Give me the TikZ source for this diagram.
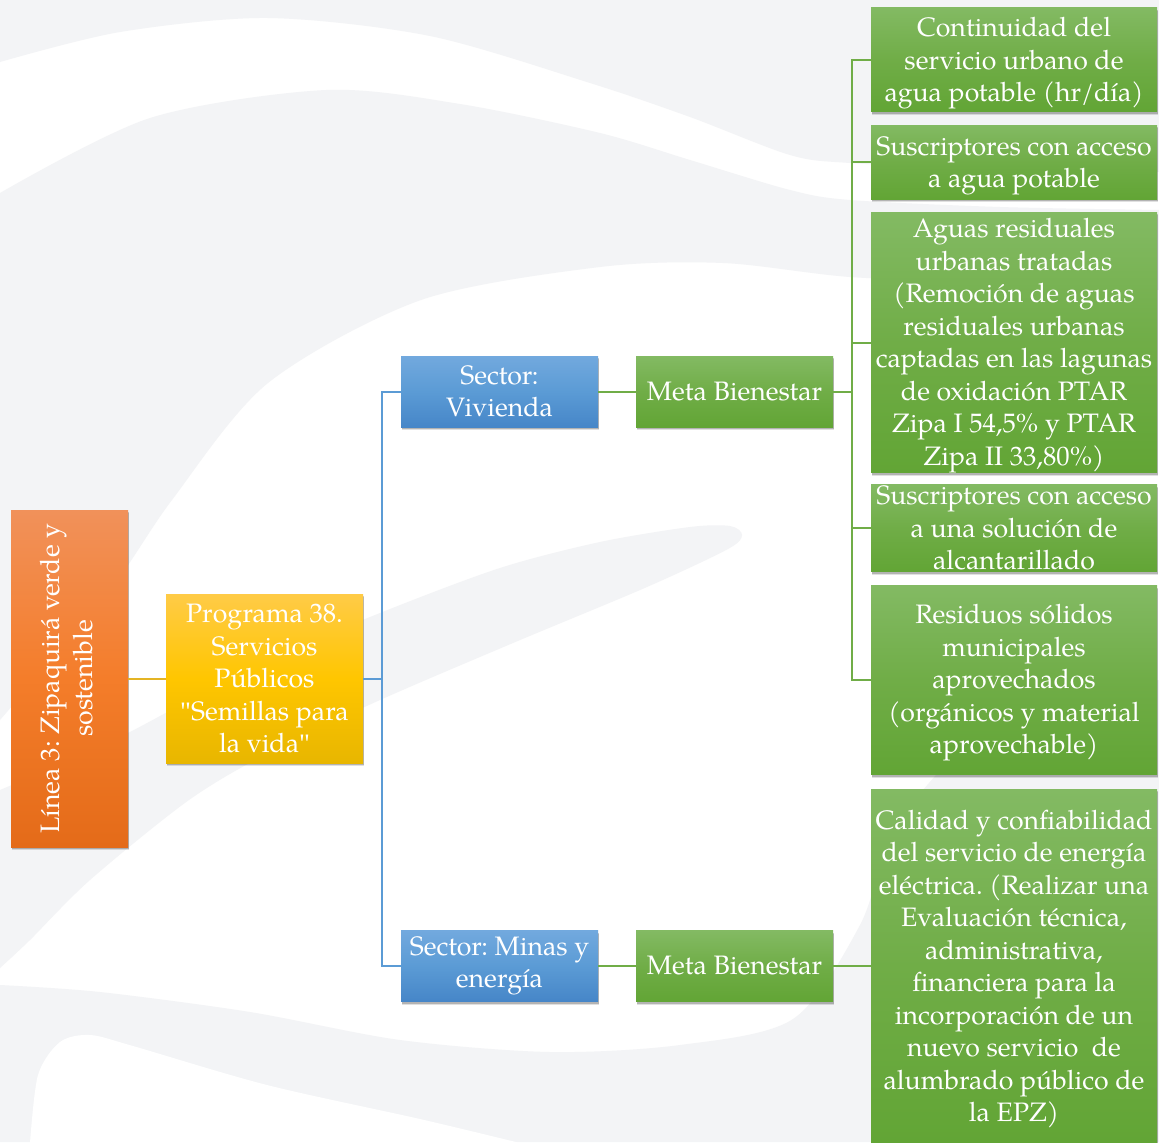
\documentclass[tikz,border=0pt]{standalone}
\usepackage{fontspec}
\setmainfont{TeX Gyre Pagella}
\newfontfamily\qfont{Liberation Serif}
\newcommand{\dq}{{\qfont"}}
\frenchspacing
\usetikzlibrary{shadows}
\definecolor{bgg}{HTML}{F3F4F6}
\definecolor{o1}{HTML}{F1915A}
\definecolor{o2}{HTML}{F47D2A}
\definecolor{o3}{HTML}{E46B19}
\definecolor{y1}{HTML}{FFCB47}
\definecolor{y2}{HTML}{FFC600}
\definecolor{y3}{HTML}{E8B600}
\definecolor{b1}{HTML}{72A9DE}
\definecolor{b2}{HTML}{5B9BD5}
\definecolor{b3}{HTML}{4686C8}
\definecolor{g1c}{HTML}{83BA63}
\definecolor{g2c}{HTML}{70AD47}
\definecolor{g3c}{HTML}{62A535}
\definecolor{yline}{HTML}{E4B424}
\tikzset{
  sz/.style 2 args={minimum width=#1*0.75pt, minimum height=#2*0.75pt},
  base/.style={rectangle, inner sep=0pt, align=center, text=white,
    font=\fontsize{20}{24.4}\selectfont,
    drop shadow={shadow xshift=0.4pt, shadow yshift=-2.4pt, opacity=0.12, fill=black},
    drop shadow={shadow xshift=0.6pt, shadow yshift=-1.6pt, opacity=0.2, fill=black}},
  orangebox/.style={base, top color=o1, bottom color=o3, middle color=o2},
  yellowbox/.style={base, top color=y1, bottom color=y3, middle color=y2},
  bluebox/.style={base, top color=b1, bottom color=b3, middle color=b2},
  greenbox/.style={base, top color=g1c, bottom color=g3c, middle color=g2c},
  yconn/.style={draw=yline, line width=1.5pt},
  bconn/.style={draw=b2, line width=1.5pt},
  gconn/.style={draw=g2c, line width=1.5pt},
}
\begin{document}
\begin{tikzpicture}[x=0.75pt,y=-0.75pt]
\useasboundingbox (0,0) rectangle (1159,1142);
\fill[white] (0,0) rectangle (1159,1142);
% background watermark
\fill[bgg] (0,0) -- (1159,0) -- (1159,172) -- plot[smooth] coordinates {(1159,172) (1000,170) (850,163) (790,155) (690,117) (590,83) (430,36) (268,18) (120,32) (0,62)} -- cycle;
\fill[bgg] plot[smooth] coordinates {(0,193) (150,118) (326,90) (460,104) (600,133) (690,160) (790,190) (850,200) (1000,207) (1159,210)} -- (1159,290) -- plot[smooth] coordinates {(1159,290) (1000,283) (850,277) (723,263) (600,267) (421,300) (268,383) (172,500) (110,590) (0,720)} -- cycle;
\fill[bgg] plot[smooth] coordinates {(0,790) (120,737) (250,668) (380,613) (500,568) (600,542) (690,527) (730,526) (742,535) (728,549) (647,587) (513,643) (380,700) (270,752) (189,800) (90,880) (30,940) (0,968)} -- cycle;
\fill[bgg] plot[smooth] coordinates {(0,985) (100,992) (250,1012) (400,1040) (550,1052) (680,1045) (793,1019) (860,925) (900,820) (1000,720) (1159,680)} -- (1159,1142) -- (0,1142) -- cycle;
\fill[white] plot[smooth] coordinates {(30,1143) (38,1075) (60,1042) (90,1035) (133,1046) (267,1085) (420,1119) (520,1143)} -- cycle;

% nodes
\node[orangebox, sz={117}{337}] (lin) at (69.5,678.5)
  {\rotatebox{90}{\begin{tabular}{@{}c@{}}Línea 3: Zipaquirá verde y\\ sostenible\end{tabular}}};
\node[yellowbox, sz={197}{169}] (prog) at (264.5,678.5)
  {Programa 38.\\ Servicios\\ Públicos\\ \dq Semillas para\\ la vida\dq};
\node[bluebox, sz={197}{71}] (sv) at (499.5,391.5) {Sector:\\ Vivienda};
\node[greenbox, sz={197}{71}] (mv) at (734.5,391.5) {Meta Bienestar};
\node[bluebox, sz={197}{71}] (sm) at (499.5,966) {Sector: Minas y\\ energía};
\node[greenbox, sz={197}{71}] (mm) at (734.5,966) {Meta Bienestar};
\node[greenbox, sz={286}{104}] (ga) at (1014,59.5)
  {\rule{0pt}{20.6pt}Continuidad del\\ servicio urbano de\\ agua potable (hr/día)};
\node[greenbox, sz={286}{74}] (gb) at (1014,162)
  {\rule{0pt}{20pt}Suscriptores con acceso\\ a agua potable};
\node[greenbox, sz={286}{258}] (gc) at (1014,342.5)
  {\rule{0pt}{19pt}Aguas residuales\\ urbanas tratadas\\ (Remoción de aguas\\ residuales urbanas\\ captadas en las lagunas\\ de oxidación PTAR\\ Zipa I 54,5\% y PTAR\\ Zipa II 33,80\%)};
\node[greenbox, sz={286}{87}] (gd) at (1014,528)
  {Suscriptores con acceso\\ a una solución de\\ alcantarillado};
\node[greenbox, sz={286}{189}] (ge) at (1014,680)
  {\rule{0pt}{19pt}Residuos sólidos\\ municipales\\ aprovechados\\ (orgánicos y material\\ aprovechable)};
\node[greenbox, sz={286}{354}] (gf) at (1014,966)
  {\rule{0pt}{19pt}Calidad y confiabilidad\\ del servicio de energía\\ eléctrica. (Realizar una\\ Evaluación técnica,\\ administrativa,\\ financiera para la\\ incorporación de un\\ nuevo servicio\ \ de\\ alumbrado público de\\ la EPZ)};

% connectors
\coordinate (bt) at (382,678.5);
\coordinate (gt) at (852,391.5);
\draw[yconn] (lin.east) -- (prog.west);
\draw[bconn] (prog.east) -- (bt);
\draw[bconn] (bt) |- (sv.west);
\draw[bconn] (bt) |- (sm.west);
\draw[gconn] (sv.east) -- (mv.west);
\draw[gconn] (sm.east) -- (mm.west);
\draw[gconn] (mm.east) -- (gf.west);
\draw[gconn] (mv.east) -- (gt);
\draw[gconn] (gt) |- (ga.west);
\draw[gconn] (gt) |- (gb.west);
\draw[gconn] (gt) |- (gc.west);
\draw[gconn] (gt) |- (gd.west);
\draw[gconn] (gt) |- (ge.west);
\end{tikzpicture}
\end{document}
